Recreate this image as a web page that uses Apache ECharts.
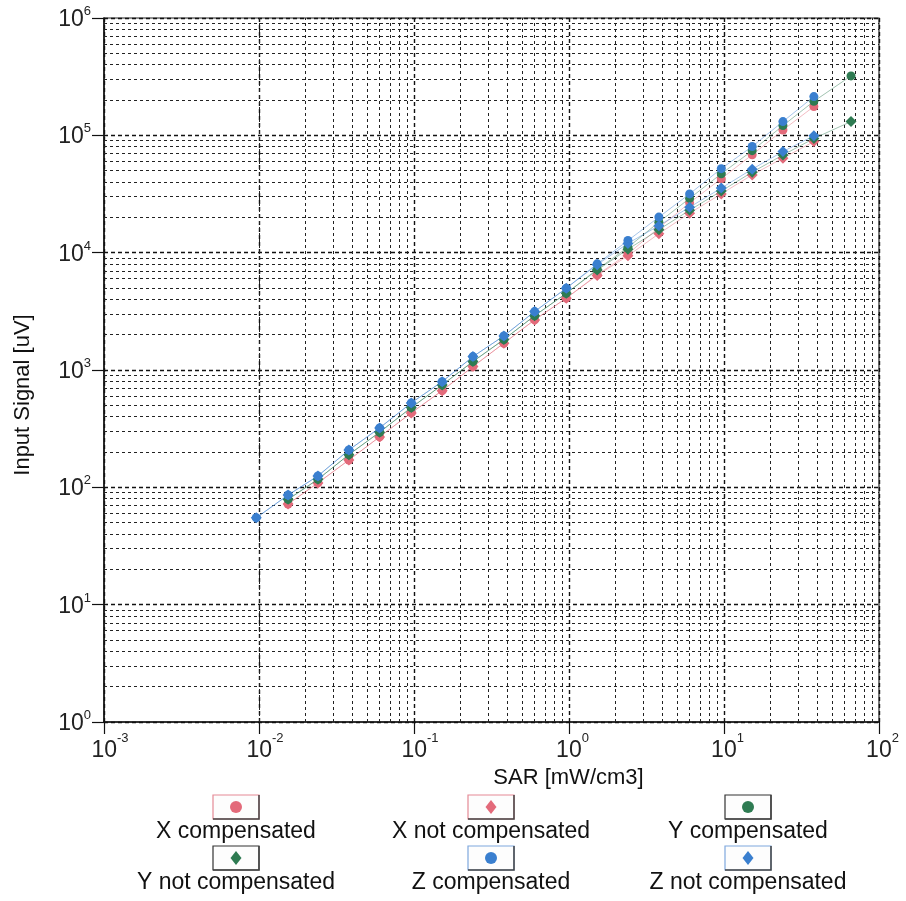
<!DOCTYPE html>
<html>
<head>
<meta charset="utf-8">
<script src="https://cdn.jsdelivr.net/npm/echarts@6/dist/echarts.min.js"></script>
<style>
html,body{margin:0;padding:0;background:#fff;}
#chart{width:906px;height:901px;}
</style>
</head>
<body>
<div id="chart"></div>
<script>
// ---- data ----
const sar = [0.0096, 0.0154, 0.024, 0.038, 0.060, 0.096, 0.152, 0.24, 0.38, 0.60, 0.96, 1.52, 2.4, 3.8, 6.0, 9.6, 15.2, 24, 38, 66];

const xComp    = [null, 72, 109, 171, 269, 431, 667, 1069, 1692, 2674, 4095, 6470, 9770, 16300, 26600, 42700, 68200, 111000, 176000, null];
const xNotComp = [null, 72, 109, 171, 269, 431, 667, 1069, 1692, 2674, 4095, 6400, 9400, 14500, 21700, 31700, 46000, 63900, 88500, null];
const yComp    = [null, 79, 117, 190, 295, 478, 746, 1180, 1820, 2900, 4500, 7200, 11100, 18200, 29000, 47000, 74000, 121000, 195000, 321000];
const yNotComp = [null, 79, 117, 190, 295, 478, 746, 1180, 1820, 2900, 4500, 7100, 10700, 15700, 23000, 33500, 48500, 68000, 94000, 131000];
const zComp    = [55, 86, 125, 208, 321, 524, 796, 1301, 1953, 3148, 4980, 8030, 12690, 20090, 31700, 52000, 80300, 131000, 214000, null];
const zNotComp = [55, 86, 125, 208, 321, 524, 796, 1301, 1953, 3148, 4980, 7900, 12000, 17000, 24400, 35500, 51500, 72800, 99000, null];

const seriesNames = ['X compensated', 'X not compensated', 'Y compensated', 'Y not compensated', 'Z compensated', 'Z not compensated'];
const xTickExp = ['-3', '-2', '-1', '0', '1', '2'];
const yTickExp = ['0', '1', '2', '3', '4', '5', '6'];
const minorMult = [2, 3, 4, 5, 6, 7, 8, 9];

// ---- styling ----
const seriesValues = [xComp, xNotComp, yComp, yNotComp, zComp, zNotComp];
const seriesColors = ['#e36a7a', '#e36a7a', '#2e7b52', '#2e7b52', '#3a7fcf', '#3a7fcf'];
const seriesSymbols = ['circle', 'diamond', 'circle', 'diamond', 'circle', 'diamond'];
const boxBorders = ['#e58a96', '#e58a96', '#333', '#333', '#7fa8de', '#7fa8de'];
const FONT = '"Liberation Sans", Arial, sans-serif';

// minor grid positions (2..9 per decade)
const minorX = [];
for (let e = -3; e < 2; e++) minorMult.forEach(m => minorX.push({ xAxis: m * Math.pow(10, e) }));
const minorY = [];
for (let e = 0; e < 6; e++) minorMult.forEach(m => minorY.push({ yAxis: m * Math.pow(10, e) }));

const series = seriesNames.map((name, i) => ({
  name: name,
  type: 'line',
  data: sar.map((x, k) => [x, seriesValues[i][k]]).filter(p => p[1] != null),
  symbol: seriesSymbols[i],
  symbolSize: seriesSymbols[i] === 'circle' ? 9 : 11,
  itemStyle: { color: seriesColors[i] },
  lineStyle: { color: seriesColors[i], width: 1, opacity: 0.45 },
  z: 5 + i,
  animation: false
}));

series.unshift({
  name: 'minor-grid',
  type: 'line',
  data: [],
  silent: true,
  animation: false,
  z: 1,
  markLine: {
    silent: true,
    animation: false,
    symbol: ['none', 'none'],
    label: { show: false },
    lineStyle: { color: '#222', type: [3, 3], width: 1 },
    data: minorX.concat(minorY)
  }
});

function expLabel(v, arr, offset) {
  const e = Math.round(Math.log10(v));
  return arr[e - offset];
}

// legend drawn as graphic (icon above text)
const legendPos = [[236, 807], [491, 807], [748, 807], [236, 858], [491, 858], [748, 858]];
const graphic = seriesNames.map((name, i) => {
  const sym = seriesSymbols[i] === 'circle'
    ? { type: 'circle', shape: { cx: 0, cy: 0, r: 6 }, style: { fill: seriesColors[i] } }
    : { type: 'polygon', shape: { points: [[0, -7], [5.5, 0], [0, 7], [-5.5, 0]] }, style: { fill: seriesColors[i] } };
  return {
    type: 'group',
    x: legendPos[i][0],
    y: legendPos[i][1],
    children: [
      { type: 'rect', shape: { x: -23, y: -12, width: 46, height: 24 }, style: { fill: '#fdfdfd', stroke: boxBorders[i], lineWidth: 1.2 } },
      { type: 'polyline', shape: { points: [[23, -12], [23, 12], [-23, 12]] }, style: { stroke: '#444', lineWidth: 1.5, fill: null } },
      sym,
      { type: 'text', style: { text: name, x: 0, y: 25, align: 'center', verticalAlign: 'middle', textAlign: 'center', textVerticalAlign: 'middle', font: '23px ' + FONT, fill: '#111' } }
    ]
  };
});

const chart = echarts.init(document.getElementById('chart'), null, { renderer: 'canvas' });
chart.setOption({
  backgroundColor: '#ffffff',
  animation: false,
  grid: { left: 104, right: 27, top: 18, bottom: 179, show: true, borderColor: '#222', borderWidth: 1.2, backgroundColor: 'transparent' },
  xAxis: {
    type: 'log', logBase: 10, min: 0.001, max: 100, splitNumber: 5,
    name: 'SAR [mW/cm3]', nameLocation: 'middle', nameGap: 40,
    nameTextStyle: { fontSize: 22, fontFamily: FONT, color: '#111', padding: [0, 0, 0, 154] },
    axisLine: { show: true, lineStyle: { color: '#111', width: 1.5 } },
    axisTick: { show: true, inside: false, length: 12, lineStyle: { color: '#111', width: 1.2 } },
    minorTick: { show: false },
    splitLine: { show: true, lineStyle: { color: '#111', type: [4, 3], width: 1.4 } },
    axisLabel: {
      margin: 10,
      formatter: v => {
        const e = expLabel(v, xTickExp, -3);
        return (e && e[0] === '-' ? '{bn|10}' : '{bp|10}') + '{s|' + e + '}';
      },
      rich: {
        bn: { fontSize: 23, fontFamily: FONT, color: '#222', padding: [0, 0, 0, 12], verticalAlign: 'bottom', lineHeight: 30 },
        bp: { fontSize: 23, fontFamily: FONT, color: '#222', padding: [0, 0, 0, 7], verticalAlign: 'bottom', lineHeight: 30 },
        s: { fontSize: 13, fontFamily: FONT, color: '#222', verticalAlign: 'top', lineHeight: 14 }
      }
    }
  },
  yAxis: {
    type: 'log', logBase: 10, min: 1, max: 1000000, splitNumber: 6,
    name: 'Input Signal [uV]', nameLocation: 'middle', nameGap: 70,
    nameTextStyle: { fontSize: 22, fontFamily: FONT, color: '#111', padding: [0, 50, 0, 0] },
    axisLine: { show: true, lineStyle: { color: '#111', width: 1.5 } },
    axisTick: { show: true, inside: false, length: 12, lineStyle: { color: '#111', width: 1.2 } },
    minorTick: { show: false },
    splitLine: { show: true, lineStyle: { color: '#111', type: [4, 3], width: 1.4 } },
    axisLabel: {
      margin: 13,
      formatter: v => '{b|10}{s|' + expLabel(v, yTickExp, 0) + '}',
      rich: {
        b: { fontSize: 23, fontFamily: FONT, color: '#222', verticalAlign: 'bottom', lineHeight: 26 },
        s: { fontSize: 13, fontFamily: FONT, color: '#222', verticalAlign: 'top', lineHeight: 14 }
      }
    }
  },
  series: series,
  graphic: graphic
});
</script>
</body>
</html>
